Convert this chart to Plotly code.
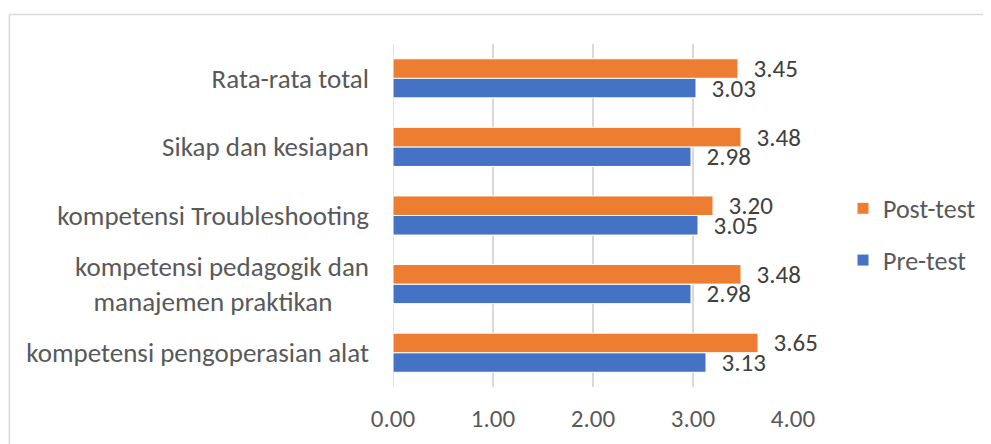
import plotly.graph_objects as go

categories = [
    "kompetensi pengoperasian alat",
    "kompetensi pedagogik dan<br>manajemen praktikan" + "\u00a0" * 6,
    "kompetensi Troubleshooting",
    "Sikap dan kesiapan",
    "Rata-rata total",
]
pre_test = [3.13, 2.98, 3.05, 2.98, 3.03]
post_test = [3.65, 3.48, 3.20, 3.48, 3.45]
x_ticks = [0, 1, 2, 3, 4]
x_tick_labels = ["0.00", "1.00", "2.00", "3.00", "4.00"]

FONT = "Calibri, Carlito, Open Sans, sans-serif"
GRAY = "#595959"
FS = 25

fig = go.Figure()
fig.add_trace(go.Bar(
    y=categories, x=pre_test, orientation="h", name="Pre-test",
    marker=dict(color="#4472C4", line=dict(color="white", width=1)),
    text=["\u2002" + f"{v:.2f}" for v in pre_test], textposition="outside",
    constraintext="none", cliponaxis=False,
    textfont=dict(family=FONT, size=FS, color="#404040"),
    legendgroup="pre", legendrank=2,
))
fig.add_trace(go.Bar(
    y=categories, x=post_test, orientation="h", name="Post-test",
    marker=dict(color="#ED7D31", line=dict(color="white", width=1)),
    text=["\u2002" + f"{v:.2f}" for v in post_test], textposition="outside",
    constraintext="none", cliponaxis=False,
    textfont=dict(family=FONT, size=FS, color="#404040"),
    legendgroup="post", legendrank=1,
))

fig.update_layout(
    width=983, height=436,
    margin=dict(l=385, r=198, t=36, b=57, autoexpand=False),
    paper_bgcolor="white", plot_bgcolor="white",
    barmode="group", bargap=0.43, bargroupgap=0,
    font=dict(family=FONT, size=FS, color=GRAY),
    showlegend=True,
    legend=dict(x=1.125, y=0.445, xanchor="left", yanchor="middle",
                traceorder="grouped", tracegroupgap=15,
                font=dict(family=FONT, size=26, color=GRAY),
                bgcolor="rgba(0,0,0,0)"),
    xaxis=dict(range=[0, 4], tickvals=x_ticks, ticktext=x_tick_labels,
               showgrid=True, gridcolor="#d9d9d9", gridwidth=1.5,
               zeroline=False, showline=False, ticks="", automargin=False,
               ticklabelstandoff=14,
               tickfont=dict(family=FONT, size=25, color=GRAY)),
    yaxis=dict(showgrid=False, zeroline=False, showline=False, ticks="",
               automargin=False, ticklabelstandoff=23,
               tickfont=dict(family=FONT, size=27, color=GRAY)),
    shapes=[
        dict(type="rect", xref="paper", yref="paper",
             x0=-0.959, x1=1.6, y0=-0.5, y1=1.086,
             line=dict(color="#d9d9d9", width=1.5), layer="below"),
        dict(type="line", xref="x", yref="paper", x0=0, x1=0, y0=0, y1=1,
             line=dict(color="#d9d9d9", width=1.5), layer="below"),
    ],
)

fig.write_html("out.html")
